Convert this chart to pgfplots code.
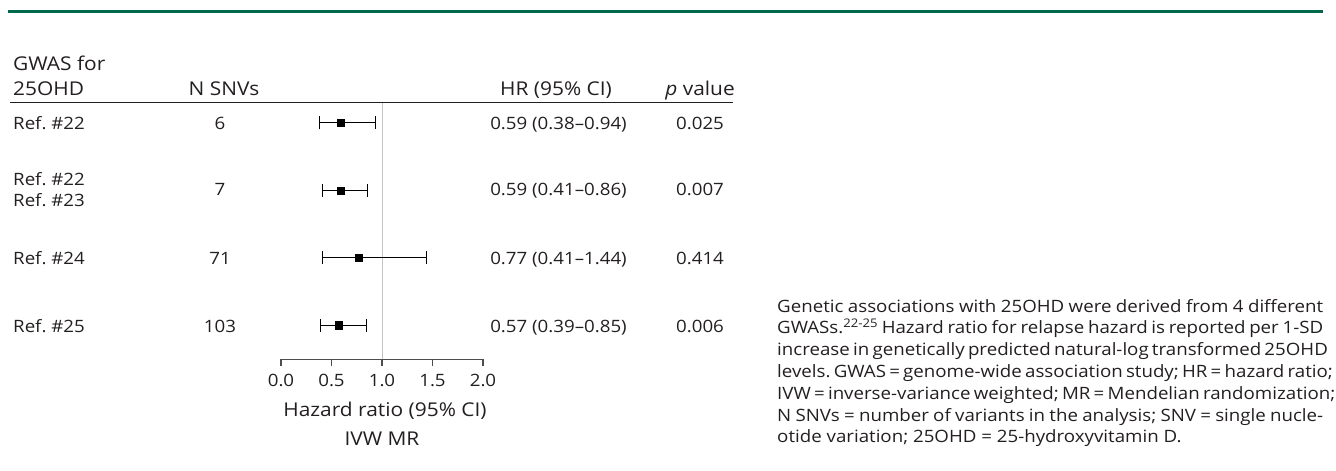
\documentclass[border=0pt]{standalone}
\usepackage{fontspec}
\setmainfont{Open Sans}[FakeStretch=1.1]
\usepackage{pgfplots}
\usepackage{pgfplotstable}
\pgfplotsset{compat=1.18}
\definecolor{textc}{HTML}{231F20}
\definecolor{axisc}{HTML}{4D4D4D}
\definecolor{refc}{HTML}{C4C4C4}
\definecolor{topgreen}{RGB}{0,105,76}
\newcommand{\mainsize}{\fontsize{17}{21.8}\selectfont}
\newcommand{\headsize}{\fontsize{19}{23}\selectfont}
\frenchspacing

% row: vertical position (4 = top row); hr, lower and upper 95% CI
\pgfplotstableread{
row    hr    lo    hi
4      0.59  0.38  0.94
3      0.59  0.41  0.86
2      0.77  0.41  1.44
1      0.57  0.39  0.85
}\forestdata

\begin{document}
\mainsize
\begin{tikzpicture}
\useasboundingbox (0pt,0pt) rectangle (1336pt,-471pt);

\begin{axis}[
  at={(281pt,-359.3pt)}, anchor=south west,
  width=202pt, height=257pt, scale only axis,
  xmin=0, xmax=2, ymin=0.495, ymax=4.307,
  clip=false,
  axis x line*=bottom,
  axis y line=none,
  x axis line style={-, draw=axisc, line width=1.3pt},
  xtick={0,0.5,1,1.5,2},
  ytick=\empty,
  tick align=outside,
  major tick length=7pt,
  xtick style={draw=axisc, line width=1.3pt},
  xticklabel style={font=\mainsize, text=textc, yshift=-2pt,
    /pgf/number format/.cd, fixed, fixed zerofill, precision=1, assume math mode=true},
]
\addplot[refc, line width=1pt] coordinates {(1,0.495) (1,4.307)};
\addplot[black, only marks, mark=square*, mark size=3.6pt,
  error bars/.cd, x dir=both, x explicit,
  error bar style={line width=1pt, black},
  error mark options={mark size=6.5pt, line width=1pt, black, rotate=90}]
  table[x=hr, y=row,
        x error plus expr=\thisrow{hi}-\thisrow{hr},
        x error minus expr=\thisrow{hr}-\thisrow{lo}] {\forestdata};
\end{axis}

\begin{scope}[x=1pt, y=-1pt, every node/.style={inner sep=0pt, text=textc, font=\mainsize}]
  \draw[topgreen, line width=3pt] (8,11.7) -- (1323,11.7);
  % header
  \node[anchor=base west, font=\headsize] at (13,70.7) {GWAS for};
  \node[anchor=base west, font=\headsize] at (13,95) {25OHD};
  \node[anchor=base, font=\headsize] at (224,95) {N SNVs};
  \node[anchor=base, font=\headsize] at (556,95) {HR (95\% CI)};
  \node[anchor=base, font=\headsize] at (700,95) {\textit{p} value};
  \draw[textc, line width=1.5pt] (10,102.3) -- (733,102.3);
  % row 1
  \node[anchor=base west] at (13,129.8) {Ref. \#22};
  \node[anchor=base] at (220,129.8) {6};
  \node[anchor=base] at (558.5,129.8) {0.59 (0.38–0.94)};
  \node[anchor=base] at (700,129.8) {0.025};
  % row 2
  \node[anchor=base west] at (13,185) {Ref. \#22};
  \node[anchor=base west] at (13,206) {Ref. \#23};
  \node[anchor=base] at (220,195.5) {7};
  \node[anchor=base] at (558.5,195.5) {0.59 (0.41–0.86)};
  \node[anchor=base] at (700,195.5) {0.007};
  % row 3
  \node[anchor=base west] at (13,264) {Ref. \#24};
  \node[anchor=base] at (220,264) {71};
  \node[anchor=base] at (558.5,264) {0.77 (0.41–1.44)};
  \node[anchor=base] at (700,264) {0.414};
  % row 4
  \node[anchor=base west] at (13,332.5) {Ref. \#25};
  \node[anchor=base] at (220,332.5) {103};
  \node[anchor=base] at (558.5,332.5) {0.57 (0.39–0.85)};
  \node[anchor=base] at (700,332.5) {0.006};
  % x label
  \node[anchor=base, font=\headsize] at (385,416) {Hazard ratio (95\% CI)};
  \node[anchor=base, font=\headsize] at (382,445.7) {IVW MR};
  % caption
  \node[anchor=base west] at (777,312)   {\makebox[546pt][s]{Genetic associations with 25OHD were derived from 4 different}};
  \node[anchor=base west] at (777,333.8) {\makebox[546pt][s]{GWASs.\textsuperscript{22-25} Hazard ratio for relapse hazard is reported per 1-SD}};
  \node[anchor=base west] at (777,355.6) {\makebox[546pt][s]{increase in genetically predicted natural-log transformed 25OHD}};
  \node[anchor=base west] at (777,377.4) {\makebox[546pt][s]{levels. GWAS = genome-wide association study; HR = hazard ratio;}};
  \node[anchor=base west] at (777,399.2) {\makebox[546pt][s]{IVW = inverse-variance weighted; MR = Mendelian randomization;}};
  \node[anchor=base west] at (777,421)   {\makebox[546pt][s]{N SNVs = number of variants in the analysis; SNV = single nucle-}};
  \node[anchor=base west] at (777,442.8) {otide variation; 25OHD = 25-hydroxyvitamin D.};
\end{scope}
\end{tikzpicture}
\end{document}
